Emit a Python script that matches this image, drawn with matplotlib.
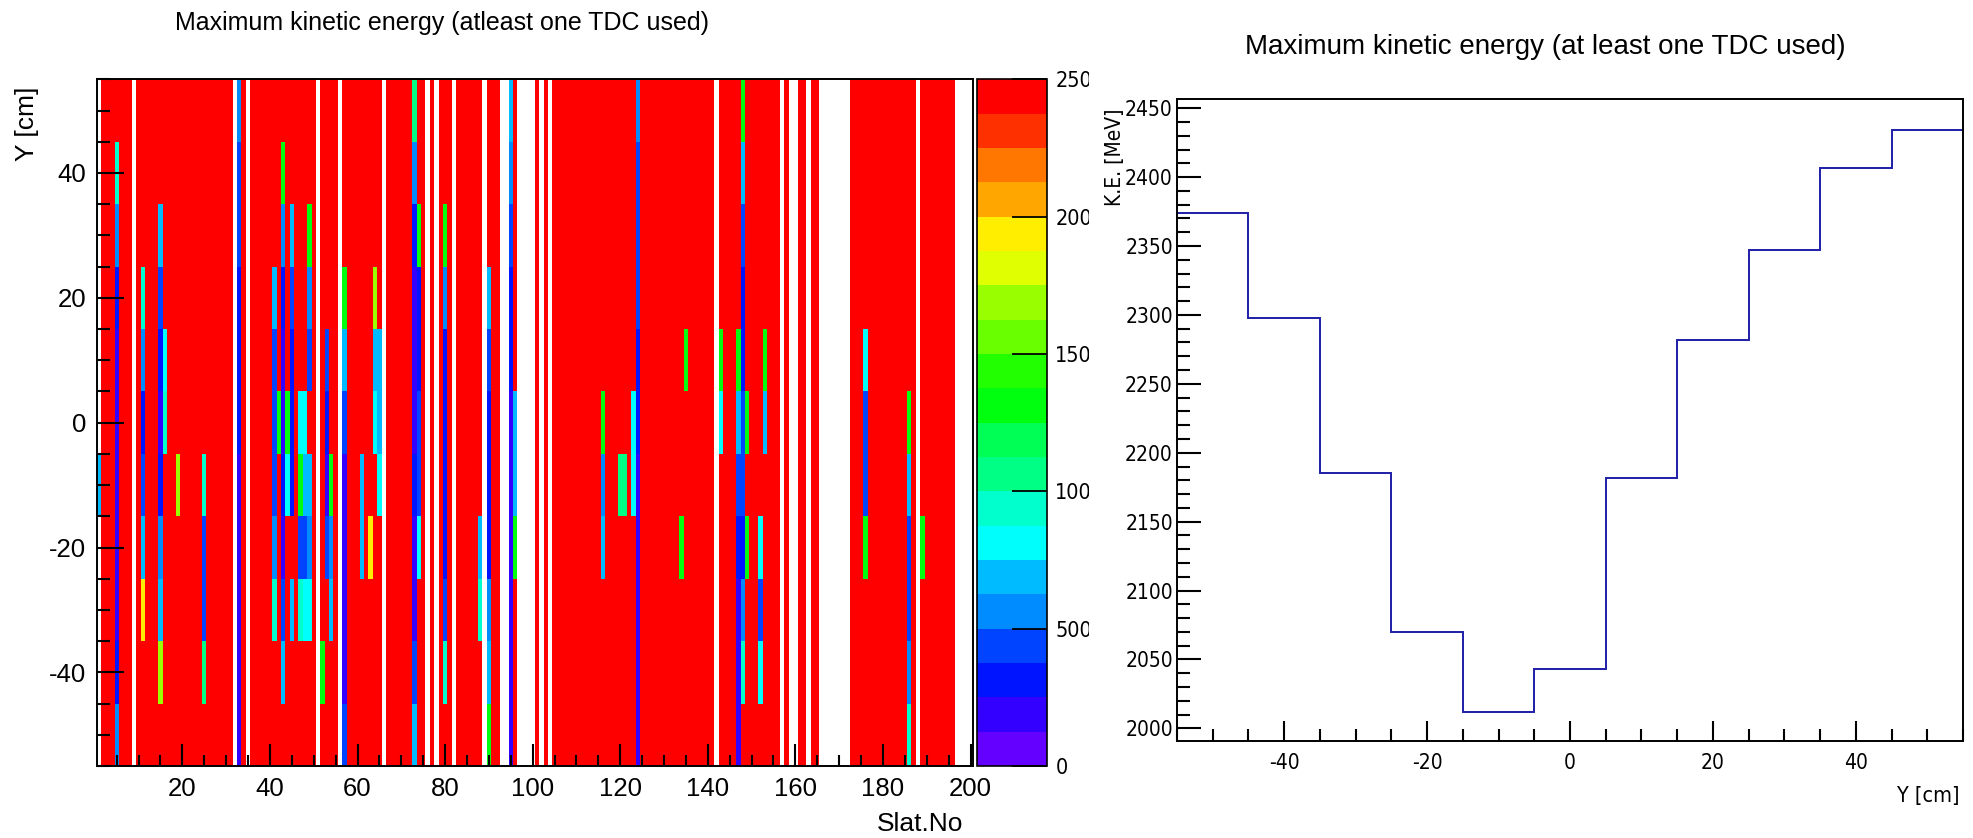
import numpy as np
import matplotlib
matplotlib.use("Agg")
import matplotlib.pyplot as plt
from matplotlib import font_manager as fm
from matplotlib.colors import ListedColormap, BoundaryNorm
from matplotlib.ticker import MultipleLocator
from matplotlib.transforms import Bbox, TransformedBbox

plt.rcParams['font.family'] = ['Liberation Sans', 'DejaVu Sans']
plt.rcParams['axes.unicode_minus'] = False


def narrow_font_path():
    """Return a path to a condensed sans font if one is installed."""
    for f in fm.fontManager.ttflist:
        if f.name == 'Liberation Sans Narrow' and f.style == 'normal' \
                and f.weight in (400, 'normal', 'regular'):
            return f.fname
    for f in fm.fontManager.ttflist:
        if 'Condensed' in f.fname and f.name == 'DejaVu Sans' \
                and f.style == 'normal' and 'Bold' not in f.fname:
            return f.fname
    return None


NARROW_PATH = narrow_font_path()


def nfont(size):
    if NARROW_PATH:
        return fm.FontProperties(fname=NARROW_PATH, size=size)
    return fm.FontProperties(family='Liberation Sans', size=size * 0.85)


# ------------------------------------------------------------------ data
# left panel: maximum kinetic energy [MeV] per slat and Y bin
slat_count = 200
y_bin_centers = [50, 40, 30, 20, 10, 0, -10, -20, -30, -40, -50]   # top -> bottom
y_bin_width = 10
ke_default = 2450          # bins at the top of the scale (red)
empty_slats = [9, 32, 35, 51, 56, 66, 76, 78, 82, 89, 93, 94, 97, 98, 99, 100,
               102, 104, 142, 157, 159, 160, 163, 166, 167, 168, 169, 170, 171,
               172, 188, 197, 198, 199, 200]
R = ke_default
N = np.nan
# values listed from Y = +50 (top) down to Y = -50 (bottom)
special_slats = {
    1:   [N, N, N, N, N, N, 690, N, N, N, N],
    5:   [R, 940, 560, 310, 190, 190, 190, 190, 190, 310, 560],
    11:  [R, R, R, 940, 560, 310, 440, 690, 1940, R, R],
    15:  [R, R, 690, 440, 310, 190, 310, 560, 690, 1690, R],
    16:  [R, R, R, R, 810, 940, R, R, R, R, R],
    19:  [R, R, R, R, R, R, 1690, R, R, R, R],
    25:  [R, R, R, R, R, R, 940, 440, 440, 1060, R],
    33:  [560, 440, 440, 310, 310, 310, 190, 190, 190, 190, 190],
    41:  [R, R, R, 690, 440, 440, 440, 560, 940, R, R],
    42:  [R, R, R, R, R, 1350, R, R, R, R, R],
    43:  [R, 1350, 560, 310, 190, 190, 310, 190, 440, 690, R],
    44:  [R, R, R, R, R, 1350, 810, R, R, R, R],
    45:  [R, R, 690, 440, 310, 310, 310, R, 690, R, R],
    47:  [R, R, R, R, R, 810, 1350, 440, 940, R, R],
    48:  [R, R, R, R, R, 810, 690, 440, 810, R, R],
    49:  [R, R, 1350, 560, 440, R, 690, 560, 810, R, R],
    52:  [R, R, R, R, R, R, R, R, R, 1350, R],
    53:  [R, R, R, R, 440, 310, 190, 440, R, R, R],
    54:  [R, R, R, R, R, R, 1350, 560, 690, R, R],
    57:  [R, R, R, 1350, 690, 440, 190, 190, 190, 190, 440],
    61:  [R, R, R, R, R, R, 690, 690, R, R, R],
    63:  [R, R, R, R, R, R, R, 1940, R, R, R],
    64:  [R, R, R, 1690, 690, 810, R, R, R, R, R],
    65:  [R, R, R, R, 690, 690, 810, R, R, R, R],
    73:  [1060, 560, 310, 190, 190, 190, 310, 190, 190, 440, 690],
    74:  [R, R, 1350, 310, 310, 440, 440, 810, R, R, R],
    80:  [R, R, 1310, 560, 310, 310, 310, 310, 440, 940, R],
    88:  [R, R, R, R, R, R, R, 690, 940, R, R],
    90:  [R, R, R, 690, 440, 310, 310, 310, 560, 690, 1350],
    95:  [690, 560, 440, 310, 310, 190, 190, 190, 190, 190, 190],
    96:  [R, R, R, R, R, 690, 690, 1350, R, R, R],
    116: [R, R, R, R, R, 1350, 560, 690, R, R, R],
    120: [R, R, R, R, R, R, 1060, R, R, R, R],
    121: [R, R, R, R, R, R, 1060, R, R, R, R],
    123: [R, R, R, R, R, 810, 810, R, R, R, R],
    124: [560, 440, 440, 440, 310, 310, 190, 190, 190, 190, 190],
    134: [R, R, R, R, R, R, R, 1350, R, R, R],
    135: [R, R, R, R, 1350, R, R, R, R, R, R],
    143: [R, R, R, R, 1350, 810, R, R, R, R, R],
    147: [R, R, R, R, 1350, 690, 440, 310, 190, 190, 190],
    148: [1350, 690, 440, 310, 310, 440, 440, 310, 560, 940, R],
    149: [R, R, R, R, R, 1350, R, 1350, R, R, R],
    152: [R, R, R, R, R, R, R, 810, 440, 810, R],
    153: [R, R, R, R, 1350, 690, R, R, R, R, R],
    176: [R, R, R, R, 810, 440, 440, 1350, R, R, R],
    186: [R, R, R, R, R, 1350, 690, 440, 440, 560, 940],
    189: [R, R, R, R, R, R, R, 1350, R, R, R],
}
z_levels = [0, 125, 250, 375, 500, 625, 750, 875, 1000, 1125, 1250, 1375,
            1500, 1625, 1750, 1875, 2000, 2125, 2250, 2375, 2500]
z_ticks = [0, 500, 1000, 1500, 2000, 2500]
palette = ['#6300ff', '#3300ff', '#0014ff', '#0044ff', '#008bff', '#00bbff',
           '#00fffc', '#00ffcc', '#00ff85', '#00ff55', '#00ff0e', '#22ff00',
           '#69ff00', '#99ff00', '#e0ff00', '#ffee00', '#ffa700', '#ff7700',
           '#ff3000', '#ff0000']

# right panel: maximum kinetic energy vs Y
y_right_centers = [-50, -40, -30, -20, -10, 0, 10, 20, 30, 40, 50]
ke_max = [2374, 2298, 2185, 2070, 2012, 2043, 2182, 2282, 2347, 2407, 2434]

# ------------------------------------------------------------------ build grid
Z = np.full((len(y_bin_centers), slat_count), float(ke_default))
for s in empty_slats:
    Z[:, s - 1] = np.nan
for s, col in special_slats.items():
    Z[:, s - 1] = col
x_edges = np.arange(slat_count + 1) + 0.5
y_edges = np.array([c + y_bin_width / 2 for c in y_bin_centers] +
                   [y_bin_centers[-1] - y_bin_width / 2])

# ------------------------------------------------------------------ figure
W, H = 1974, 838
fig = plt.figure(figsize=(W / 100, H / 100), dpi=100)
fig.patch.set_facecolor('white')


def fr(x0, y0, x1, y1):
    return [x0 / W, 1 - y1 / H, (x1 - x0) / W, (y1 - y0) / H]


def style_axes(ax, fs):
    ax.tick_params(which='both', direction='in', top=False, right=False,
                   width=1.5, labelsize=fs, colors='black')
    for sp in ax.spines.values():
        sp.set_linewidth(1.4)


# left heatmap
ax1 = fig.add_axes(fr(97, 79.3, 972.7, 766))
cmap = ListedColormap(palette)
cmap.set_bad('white')
norm = BoundaryNorm(z_levels, cmap.N)
mesh = ax1.pcolormesh(x_edges, y_edges, np.ma.masked_invalid(Z), cmap=cmap,
                      norm=norm, shading='flat')
ax1.set_xlim(0.5, 200.5)
ax1.set_ylim(-55, 55)
ax1.xaxis.set_major_locator(MultipleLocator(20))
ax1.xaxis.set_minor_locator(MultipleLocator(5))
ax1.yaxis.set_major_locator(MultipleLocator(20))
ax1.yaxis.set_minor_locator(MultipleLocator(5))
style_axes(ax1, 18.5)
ax1.tick_params(axis='x', which='major', length=15.8, pad=8)
ax1.tick_params(axis='x', which='minor', length=7.9)
ax1.tick_params(axis='y', which='major', length=19.4, pad=8)
ax1.tick_params(axis='y', which='minor', length=9.4)
fig.text(442 / W, 1 - 23 / H, 'Maximum kinetic energy (atleast one TDC used)',
         ha='center', va='center', fontsize=18)
fig.text(27 / W, 1 - 87 / H, 'Y [cm]', rotation=90, ha='center', va='top',
         fontsize=19)
fig.text(963 / W, 1 - 824 / H, 'Slat.No', ha='right', va='center', fontsize=19)

# colour bar
cax = fig.add_axes(fr(977, 79.3, 1047, 766))
cb = fig.colorbar(mesh, cax=cax, ticks=z_ticks)
cb.outline.set_linewidth(1.2)
cax.tick_params(which='both', direction='in', length=25, width=1.3,
                labelsize=15, pad=6)
cax.minorticks_off()

# right panel
ax2 = fig.add_axes(fr(1177, 99.3, 1963, 740.7))
edges_r = [c - 5 for c in y_right_centers] + [y_right_centers[-1] + 5]
ax2.stairs(ke_max, edges_r, baseline=None, color='#1e1ea8', linewidth=1.4)
ax2.set_xlim(-55, 55)
ax2.set_ylim(1991, 2456.5)
ax2.xaxis.set_major_locator(MultipleLocator(20))
ax2.xaxis.set_minor_locator(MultipleLocator(5))
ax2.yaxis.set_major_locator(MultipleLocator(50))
ax2.yaxis.set_minor_locator(MultipleLocator(10))
style_axes(ax2, 15)
ax2.tick_params(axis='x', which='major', length=14.4, pad=9)
ax2.tick_params(axis='x', which='minor', length=8.6)
ax2.tick_params(axis='y', which='major', length=17, pad=3)
ax2.tick_params(axis='y', which='minor', length=9.4)
fig.text(1545 / W, 1 - 47 / H, 'Maximum kinetic energy (at least one TDC used)',
         ha='center', va='center', fontsize=20)
fig.text(1115 / W, 1 - 108 / H, 'K.E. [MeV]', rotation=90, ha='center',
         va='top', fontproperties=nfont(15))
fig.text(1960 / W, 1 - 796 / H, 'Y [cm]', ha='right', va='center',
         fontproperties=nfont(15.5))

# condensed tick labels on the right-hand side (as in the reference)
fig.canvas.draw()
for lbl in ax2.get_xticklabels() + ax2.get_yticklabels():
    lbl.set_fontproperties(nfont(15))
clip = TransformedBbox(Bbox([[0, 0], [1089 / W, 1]]), fig.transFigure)
for lbl in cax.get_yticklabels():
    lbl.set_fontproperties(nfont(15.5))
    lbl.set_clip_box(clip)
    lbl.set_clip_on(True)

fig.savefig('out.png', dpi=100, facecolor='white')
